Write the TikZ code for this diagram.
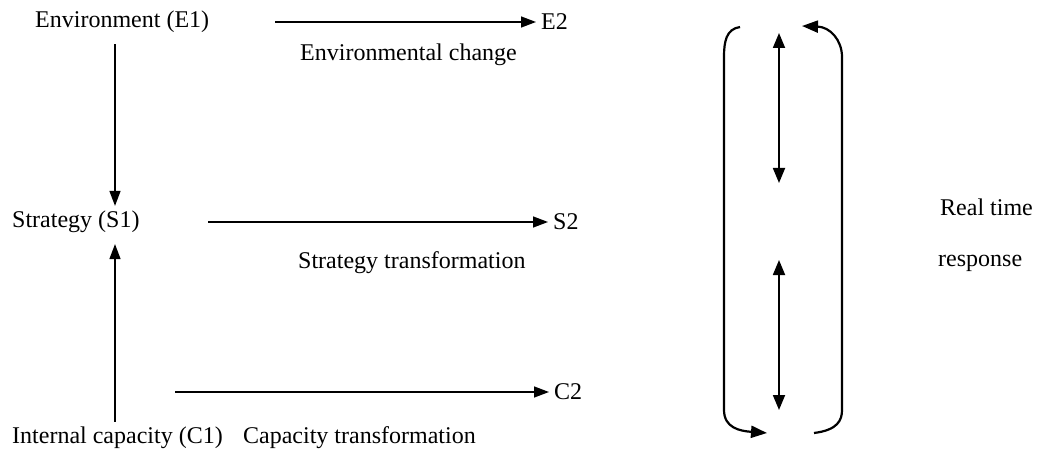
\documentclass[tikz,border=0pt]{standalone}
\usepackage{fontspec}
\setmainfont{Liberation Serif}
\usetikzlibrary{arrows.meta, positioning}

\begin{document}
\begin{tikzpicture}[x=1pt, y=-1pt,
    every node/.style={font=\fontsize{24}{28}\selectfont, inner sep=5pt},
    lbl/.style={anchor=west},
    arr/.style={-{Triangle[length=15pt,width=11pt]}, line width=1.4pt},
    twoway/.style={{Triangle[length=15pt,width=12pt]}-{Triangle[length=15pt,width=12pt]}, line width=1.8pt},
    loopline/.style={line width=2.2pt},]
\useasboundingbox (0,0) rectangle (1060,457);

% left column
\node[lbl] (env) at (30,22) {Environment (E1)};
\node[lbl] (strat) at (7,222) {Strategy (S1)};
\node[lbl] (cap) at (7,438) {Internal capacity (C1)};
\node[right=10pt of cap] (captrans) {Capacity transformation};

% end states
\node[lbl] (envtwo) at (536,22) {E2};
\node[lbl] (strattwo) at (548,222) {S2};
\node[lbl] (captwo) at (549,392) {C2};

\node[lbl] (envchange) at (295,55) {Environmental change};
\node[lbl] (strattrans) at (293,263) {Strategy transformation};

\coordinate (col) at (115,0);
\draw[arr, shorten <=6pt] (env.south -| col) -- (strat.north -| col);
\draw[arr, shorten >=6pt] (cap.north -| col) -- (strat.south -| col);

\coordinate (e0) at (275,22);
\coordinate (s0) at (208,222);
\coordinate (c0) at (175,392);
\draw[arr] (e0) -- (envtwo.west);
\draw[arr] (s0) -- (strattwo.west);
\draw[arr] (c0) -- (captwo.west);

% real time loop
\draw[loopline, -{Triangle[length=16pt,width=12pt]}] (740,27) .. controls (726,29) and (724,42) .. (724,57)
    -- (724,410) .. controls (724,428) and (740,431) .. (767,433);
\draw[loopline, -{Triangle[length=16pt,width=12pt]}] (814,433) .. controls (838,430) and (842,420) .. (842,410)
    -- (842,57) .. controls (842,40) and (830,27) .. (802,26);

\coordinate (a1) at (779,33);
\coordinate (a2) at (779,183);
\coordinate (b1) at (779,260);
\coordinate (b2) at (779,410);
\draw[twoway] (a1) -- (a2);
\draw[twoway] (b1) -- (b2);

\node[lbl] (realtime) at (935,207) {Real time};
\node[lbl] (response) at (933,263) {response};

\end{tikzpicture}
\end{document}
